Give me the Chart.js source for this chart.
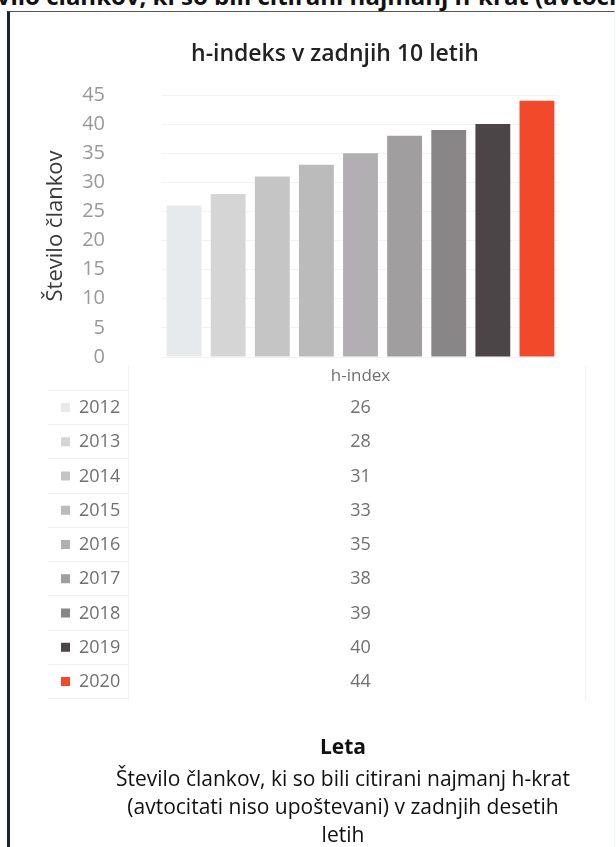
<!DOCTYPE html>
<html>
<head>
<meta charset="utf-8">
<script src="https://cdn.jsdelivr.net/npm/chart.js@4.4.1/dist/chart.umd.min.js"></script>
<style>
    body { margin: 0; background: #fff; width: 616px; height: 847px; overflow: hidden; position: relative; font-family: "Open Sans", sans-serif; }
    #topText { position: absolute; left: -41px; top: -21px; white-space: nowrap; font-weight: bold; font-size: 24px; color: #111; }
    #frame { position: absolute; left: 7px; top: 11px; width: 604px; height: 840px; border-left: 3px solid #1c2230; border-top: 1px solid #555; border-right: 1px solid #eef3f6; }
    #wrap { position: absolute; left: 0; top: 0; width: 616px; height: 847px; }
    #title { position: absolute; left: 135px; width: 400px; top: 37px; text-align: center; font-size: 23px; line-height: 30px; font-weight: 600; color: #222; white-space: nowrap; }
    #caption { position: absolute; left: 43px; width: 600px; top: 732px; text-align: center; color: #111; font-size: 21px; line-height: 28px; }
    #caption b { display: block; font-size: 21px; margin-bottom: 4px; }
</style>
</head>
<body>
<div id="topText">Število člankov, ki so bili citirani najmanj h-krat (avtocitati niso upoštevani)</div>
<div id="frame"></div>
<div id="wrap"><canvas id="mainChart"></canvas></div>
<div id="title"></div>
<div id="caption"></div>

<script>
// podatki
const years = ['2012', '2013', '2014', '2015', '2016', '2017', '2018', '2019', '2020'];
const hIndex = [26, 28, 31, 33, 35, 38, 39, 40, 44];
const barColors = ['#e7eaeb', '#d5d5d5', '#c6c5c6', '#bcbbbc', '#b1afb1', '#a19e9f', '#898687', '#4b4547', '#f2492a'];
const categories = ['h-index'];
const yTicks = [0, 5, 10, 15, 20, 25, 30, 35, 40, 45];

const chartTitle = 'h-indeks v zadnjih 10 letih';
const yTitle = 'Število člankov';
const xTitle = 'Leta';
const captionLines = ['Število člankov, ki so bili citirani najmanj h-krat', '(avtocitati niso upoštevani) v zadnjih desetih', 'letih'];

// naslov in napis spodaj
document.getElementById('title').textContent = chartTitle;
document.getElementById('caption').innerHTML = '<b>' + xTitle + '</b>' + captionLines.join('<br>');

const FONT = '"Open Sans", sans-serif';
const ROW_TOP = 407;
const ROW_STEP = 34.25;

// tabela s podatki pod grafom
const dataTablePlugin = {
    id: 'dataTable',
    afterDraw(chart) {
        const ctx = chart.ctx;
        const x = chart.scales.x;
        const valueX = x.getPixelForValue(0);
        ctx.save();

        // mreža tabele
        ctx.strokeStyle = '#f0f0f0';
        ctx.lineWidth = 1;
        ctx.beginPath();
        ctx.moveTo(128.5, 366);
        ctx.lineTo(128.5, 700);
        ctx.moveTo(585.5, 366);
        ctx.lineTo(585.5, 700);
        for (let i = 0; i <= years.length; i++) {
            const y = Math.round(ROW_TOP - ROW_STEP / 2 + i * ROW_STEP) + 0.5;
            ctx.moveTo(48, y);
            ctx.lineTo(128, y);
        }
        ctx.stroke();

        ctx.font = '18px ' + FONT;
        ctx.textBaseline = 'middle';
        years.forEach((yr, i) => {
            const y = ROW_TOP + i * ROW_STEP;
            ctx.fillStyle = barColors[i];
            ctx.fillRect(61, y - 4, 9, 9);
            ctx.fillStyle = '#707070';
            ctx.textAlign = 'left';
            ctx.fillText(yr, 79, y + 1);
            ctx.textAlign = 'center';
            ctx.fillText(String(hIndex[i]), valueX, y + 1);
        });
        ctx.restore();
    }
};

const datasets = years.map((yr, i) => ({
    label: yr,
    data: [hIndex[i]],
    backgroundColor: barColors[i],
    borderWidth: 0,
    barPercentage: 0.79,
    categoryPercentage: 1
}));

new Chart(document.getElementById('mainChart'), {
    type: 'bar',
    data: { labels: categories, datasets: datasets },
    options: {
        responsive: true,
        maintainAspectRatio: false,
        animation: false,
        layout: { padding: { left: 10, right: 57, top: 95, bottom: 460 } },
        plugins: {
            legend: { display: false },
            tooltip: { enabled: false },
            title: { display: false }
        },
        scales: {
            x: {
                grid: { display: false },
                border: { display: false },
                ticks: { color: '#707070', font: { family: FONT, size: 17 }, padding: 1 },
                afterFit(scale) { scale.height = 30; }
            },
            y: {
                min: 0,
                max: 45,
                afterBuildTicks(scale) { scale.ticks = yTicks.map(v => ({ value: v })); },
                afterFit(scale) { scale.width = 152; },
                grid: { color: '#f3f3f3', drawTicks: false },
                border: { display: false },
                ticks: { color: '#999', font: { family: FONT, size: 20 }, padding: 57 },
                title: {
                    display: true,
                    text: yTitle,
                    color: '#3a3a3a',
                    font: { family: FONT, size: 22 },
                    padding: { top: 33 }
                }
            }
        }
    },
    plugins: [dataTablePlugin]
});
</script>
</body>
</html>
